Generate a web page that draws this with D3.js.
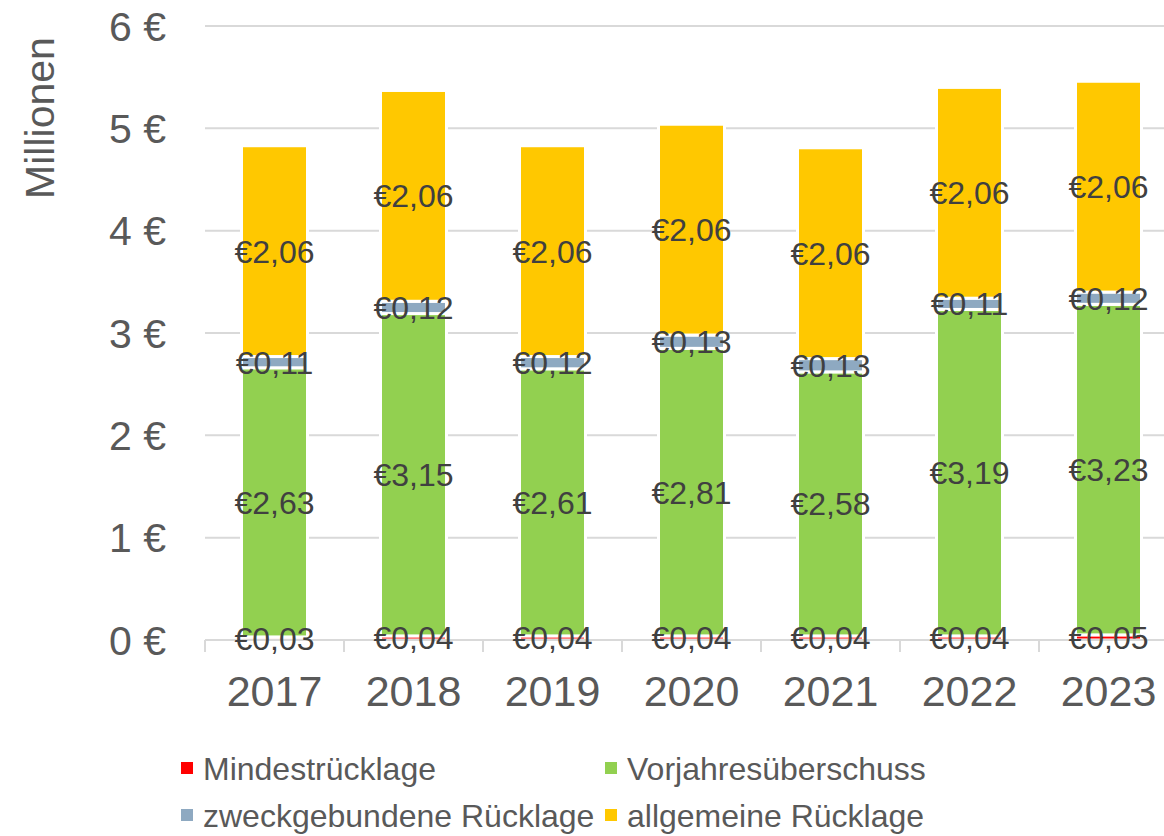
<!DOCTYPE html>
<html>
<head>
<meta charset="utf-8">
<script src="https://cdn.jsdelivr.net/npm/d3@7"></script>
<style>
  body { margin: 0; background: #fff; }
  svg { font-family: "Liberation Sans", Arial, sans-serif; }
</style>
</head>
<body>
<div class="chart"></div>
<script>
// data (Millionen €)
const years = ["2017", "2018", "2019", "2020", "2021", "2022", "2023"];
const seriesNames = ["Mindestrücklage", "Vorjahresüberschuss", "zweckgebundene Rücklage", "allgemeine Rücklage"];
const seriesColors = ["#ff0000", "#92d050", "#8ea9c1", "#ffc800"];
const mindest = [0.03, 0.04, 0.04, 0.04, 0.04, 0.04, 0.05];
const vorjahr = [2.63, 3.15, 2.61, 2.81, 2.58, 3.19, 3.23];
const zweck = [0.11, 0.12, 0.12, 0.13, 0.13, 0.11, 0.12];
const allgemein = [2.06, 2.06, 2.06, 2.06, 2.06, 2.06, 2.06];
const yTicks = [0, 1, 2, 3, 4, 5, 6];

const W = 1164, H = 836;
const svg = d3.select(".chart").append("svg").attr("width", W).attr("height", H);

const x = d3.scaleBand().domain(years).range([205, 1178]);
const y = d3.scaleLinear().domain([0, 6]).range([640, 26]);
const barW = 66;

const rows = years.map((yr, i) => ({
  year: yr,
  [seriesNames[0]]: mindest[i],
  [seriesNames[1]]: vorjahr[i],
  [seriesNames[2]]: zweck[i],
  [seriesNames[3]]: allgemein[i]
}));
const stacked = d3.stack().keys(seriesNames)(rows);

// gridlines
svg.append("g").selectAll("line").data(yTicks.filter(t => t > 0)).join("line")
  .attr("x1", 205).attr("x2", W).attr("y1", d => y(d)).attr("y2", d => y(d))
  .attr("stroke", "#d9d9d9").attr("stroke-width", 2);

// y axis labels
svg.append("g").selectAll("text").data(yTicks).join("text")
  .attr("x", 166).attr("y", d => y(d)).attr("dy", "0.36em")
  .attr("text-anchor", "end").attr("font-size", 41).attr("fill", "#595959")
  .text(d => d + " €");

svg.append("text")
  .attr("transform", "translate(54,118) rotate(-90)")
  .attr("text-anchor", "middle").attr("font-size", 41).attr("fill", "#595959")
  .text("Millionen");

// bars
const layer = svg.append("g").selectAll("g").data(stacked).join("g")
  .attr("fill", (d, i) => seriesColors[i]);
layer.selectAll("rect").data(d => d).join("rect")
  .attr("x", d => x(d.data.year) + (x.bandwidth() - barW) / 2)
  .attr("width", barW)
  .attr("y", d => y(d[1]))
  .attr("height", d => y(d[0]) - y(d[1]))
  .attr("stroke", "#fff").attr("stroke-width", 3);

// x axis
const xAxis = svg.append("g");
xAxis.append("line").attr("x1", 205).attr("x2", W).attr("y1", 640).attr("y2", 640)
  .attr("stroke", "#d9d9d9").attr("stroke-width", 2);
xAxis.selectAll("line.tick").data(years.concat(["end"])).join("line")
  .attr("class", "tick")
  .attr("x1", (d, i) => 205 + i * x.step()).attr("x2", (d, i) => 205 + i * x.step())
  .attr("y1", 640).attr("y2", 652)
  .attr("stroke", "#d9d9d9").attr("stroke-width", 2);
xAxis.selectAll("text").data(years).join("text")
  .attr("x", d => x(d) + x.bandwidth() / 2).attr("y", 706)
  .attr("text-anchor", "middle").attr("font-size", 43).attr("fill", "#595959")
  .text(d => d);

// data labels
const fmt = v => "€" + v.toFixed(2).replace(".", ",");
const lab = svg.append("g").selectAll("g").data(stacked).join("g");
lab.selectAll("text").data(d => d).join("text")
  .attr("x", d => x(d.data.year) + x.bandwidth() / 2)
  .attr("y", d => y((d[0] + d[1]) / 2))
  .attr("dy", "0.36em")
  .attr("text-anchor", "middle").attr("font-size", 32).attr("fill", "#404040")
  .text(d => fmt(d[1] - d[0]));

// legend
const legendPos = [[181, 768], [605, 768], [181, 815], [605, 815]];
const leg = svg.append("g").selectAll("g").data(seriesNames).join("g")
  .attr("transform", (d, i) => `translate(${legendPos[i][0]},${legendPos[i][1]})`);
leg.append("rect").attr("x", 0).attr("y", -6).attr("width", 12).attr("height", 12)
  .attr("fill", (d, i) => seriesColors[i]);
leg.append("text").attr("x", 22).attr("dy", "0.36em")
  .attr("font-size", 32).attr("fill", "#595959").text(d => d);
</script>
</body>
</html>
